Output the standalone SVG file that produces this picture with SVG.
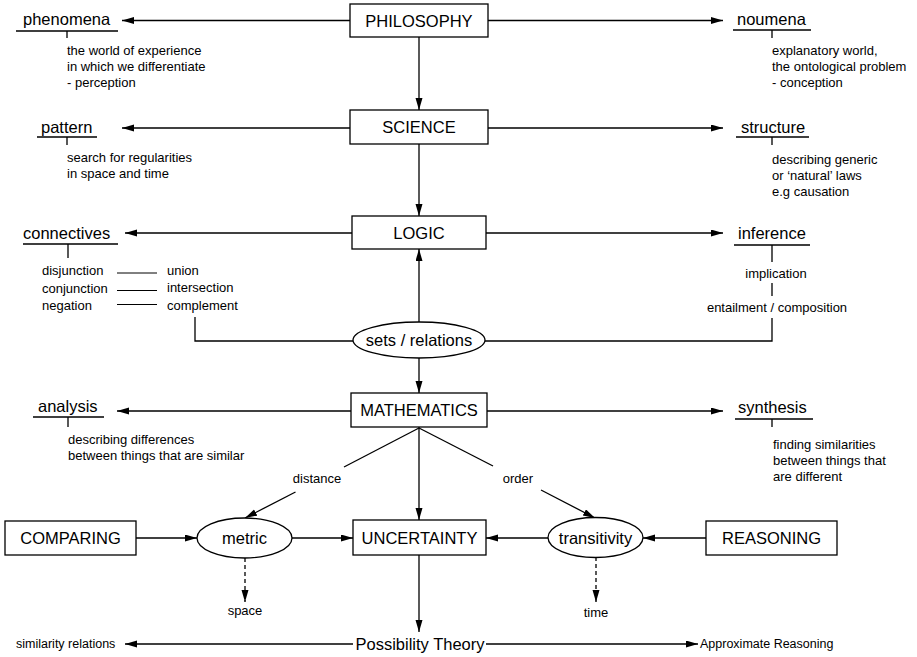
<svg xmlns="http://www.w3.org/2000/svg" width="917" height="657" viewBox="0 0 917 657">
<defs>
<marker id="ah" markerUnits="userSpaceOnUse" markerWidth="13" markerHeight="8" refX="12" refY="3.5" orient="auto">
<path d="M0,0 L12,3.5 L0,7 z" fill="#000"/>
</marker>
<style>
text{font-family:"Liberation Sans",Arial,sans-serif;fill:#000}
.big{font-size:16.5px}
.sm{font-size:13px}
.bot{font-size:12.5px}
.mid{text-anchor:middle}
.nd{fill:#fff;stroke:#000;stroke-width:1.3}
.ln{stroke:#000;stroke-width:1.3;fill:none}
.ar{stroke:#000;stroke-width:1.3;fill:none;marker-end:url(#ah)}
.da{stroke:#000;stroke-width:1.3;fill:none;stroke-dasharray:4,3;marker-end:url(#ah)}
.th{stroke:#000;stroke-width:1;fill:none}
</style>
</defs>
<rect x="0" y="0" width="917" height="657" fill="#fff"/>
<g id="connectors">
<path class="ar" d="M350,20.5 H122"/>
<path class="ar" d="M488,20.5 H723"/>
<path class="ar" d="M419,37 V110"/>
<path class="ar" d="M350,128 H122"/>
<path class="ar" d="M488,128 H723"/>
<path class="ar" d="M419,144 V216"/>
<path class="ar" d="M352,233 H125"/>
<path class="ar" d="M486,233 H723"/>
<path class="ar" d="M419,322 V249"/>
<path class="ar" d="M419,358 V393"/>
<path class="ln" d="M195,317 V341 H353"/>
<path class="ln" d="M772,318 V341 H485"/>
<path class="ar" d="M351,411 H117"/>
<path class="ar" d="M487,411 H723"/>
<path class="ar" d="M419,427 V520"/>
<path class="ln" d="M419,428 L344,467"/>
<path class="ar" d="M295.5,492 L245,518"/>
<path class="ln" d="M419,428 L493,466"/>
<path class="ar" d="M541,490 L595,518"/>
<path class="ar" d="M136,538 H197"/>
<path class="ar" d="M292,538 H353"/>
<path class="ar" d="M706,538 H643"/>
<path class="ar" d="M548,538 H486"/>
<path class="da" d="M245,558 V602"/>
<path class="da" d="M596,557 V602"/>
<path class="ar" d="M419,555 V632"/>
<path class="ar" d="M353,644 H125"/>
<path class="ar" d="M486,644 H698"/>
</g>
<g id="philosophy">
<rect class="nd" x="350" y="4" width="138" height="33"/>
<text class="big mid" x="419" y="26.5">PHILOSOPHY</text>
</g>
<g id="phenomena">
<text class="big" x="23" y="25">phenomena</text>
<path class="ln" d="M16,31 H118 M67,31 V38"/>
<text class="sm" x="67" y="55">the world of experience</text>
<text class="sm" x="67" y="71">in which we differentiate</text>
<text class="sm" x="67" y="87">- perception</text>
</g>
<g id="noumena">
<text class="big" x="737" y="25">noumena</text>
<path class="ln" d="M733,30 H811 M772,30 V38"/>
<text class="sm" x="772" y="55">explanatory world,</text>
<text class="sm" x="772" y="71">the ontological problem</text>
<text class="sm" x="772" y="87">- conception</text>
</g>
<g id="science">
<rect class="nd" x="350" y="110" width="138" height="34"/>
<text class="big mid" x="419" y="133">SCIENCE</text>
</g>
<g id="pattern">
<text class="big" x="41" y="133">pattern</text>
<path class="ln" d="M37,137 H97 M67,137 V145"/>
<text class="sm" x="67" y="162">search for regularities</text>
<text class="sm" x="67" y="178">in space and time</text>
</g>
<g id="structure">
<text class="big" x="741" y="133">structure</text>
<path class="ln" d="M736,137 H809 M772,137 V145"/>
<text class="sm" x="772" y="164">describing generic</text>
<text class="sm" x="772" y="180">or ‘natural’ laws</text>
<text class="sm" x="772" y="196">e.g causation</text>
</g>
<g id="logic">
<rect class="nd" x="352" y="216" width="134" height="33"/>
<text class="big mid" x="419" y="238.5">LOGIC</text>
</g>
<g id="connectives">
<text class="big" x="23" y="239">connectives</text>
<path class="ln" d="M23,244 H118 M68,244 V258"/>
<text class="sm" x="42" y="275">disjunction</text>
<text class="sm" x="42" y="293">conjunction</text>
<text class="sm" x="42" y="310">negation</text>
<path class="th" d="M117,273 H157 M117,290.5 H157 M117,304.5 H157"/>
<text class="sm" x="167" y="275">union</text>
<text class="sm" x="167" y="292">intersection</text>
<text class="sm" x="167" y="310">complement</text>
</g>
<g id="inference">
<text class="big" x="738" y="239">inference</text>
<path class="ln" d="M734,245 H810 M772,245 V262 M772,283 V296"/>
<text class="sm mid" x="776" y="278">implication</text>
<text class="sm mid" x="777" y="312">entailment / composition</text>
</g>
<g id="sets">
<ellipse class="nd" cx="419" cy="340" rx="66" ry="18"/>
<text class="big mid" x="419" y="346">sets / relations</text>
</g>
<g id="mathematics">
<rect class="nd" x="351" y="393" width="136" height="34"/>
<text class="big mid" x="419" y="416">MATHEMATICS</text>
</g>
<g id="analysis">
<text class="big" x="38" y="412">analysis</text>
<path class="ln" d="M33,417 H104 M68,417 V427"/>
<text class="sm" x="68" y="444">describing differences</text>
<text class="sm" x="68" y="460">between things that are similar</text>
</g>
<g id="synthesis">
<text class="big" x="738" y="413">synthesis</text>
<path class="ln" d="M735,419 H813 M772,419 V427"/>
<text class="sm" x="773" y="449">finding similarities</text>
<text class="sm" x="773" y="465">between things that</text>
<text class="sm" x="773" y="481">are different</text>
</g>
<g id="labels">
<text class="sm mid" x="317" y="483">distance</text>
<text class="sm mid" x="518" y="483">order</text>
</g>
<g id="comparing">
<rect class="nd" x="5" y="521" width="131" height="34"/>
<text class="big mid" x="70.5" y="544">COMPARING</text>
</g>
<g id="metric">
<ellipse class="nd" cx="244.5" cy="538" rx="47.5" ry="20"/>
<text class="big mid" x="244.5" y="544">metric</text>
</g>
<g id="uncertainty">
<rect class="nd" x="353" y="520" width="133" height="35"/>
<text class="big mid" x="419.5" y="543.5">UNCERTAINTY</text>
</g>
<g id="transitivity">
<ellipse class="nd" cx="595.5" cy="537.5" rx="47.5" ry="20"/>
<text class="big mid" x="595.5" y="543.5">transitivity</text>
</g>
<g id="reasoning">
<rect class="nd" x="706" y="521" width="131" height="34"/>
<text class="big mid" x="771.5" y="544">REASONING</text>
</g>
<g id="space"><text class="sm mid" x="245" y="615">space</text></g>
<g id="time"><text class="sm mid" x="596" y="617">time</text></g>
<g id="possibility"><text class="big mid" x="420" y="650">Possibility Theory</text></g>
<g id="similarity"><text class="bot" x="16" y="648">similarity relations</text></g>
<g id="approx"><text class="bot" x="700" y="648">Approximate Reasoning</text></g>
</svg>
